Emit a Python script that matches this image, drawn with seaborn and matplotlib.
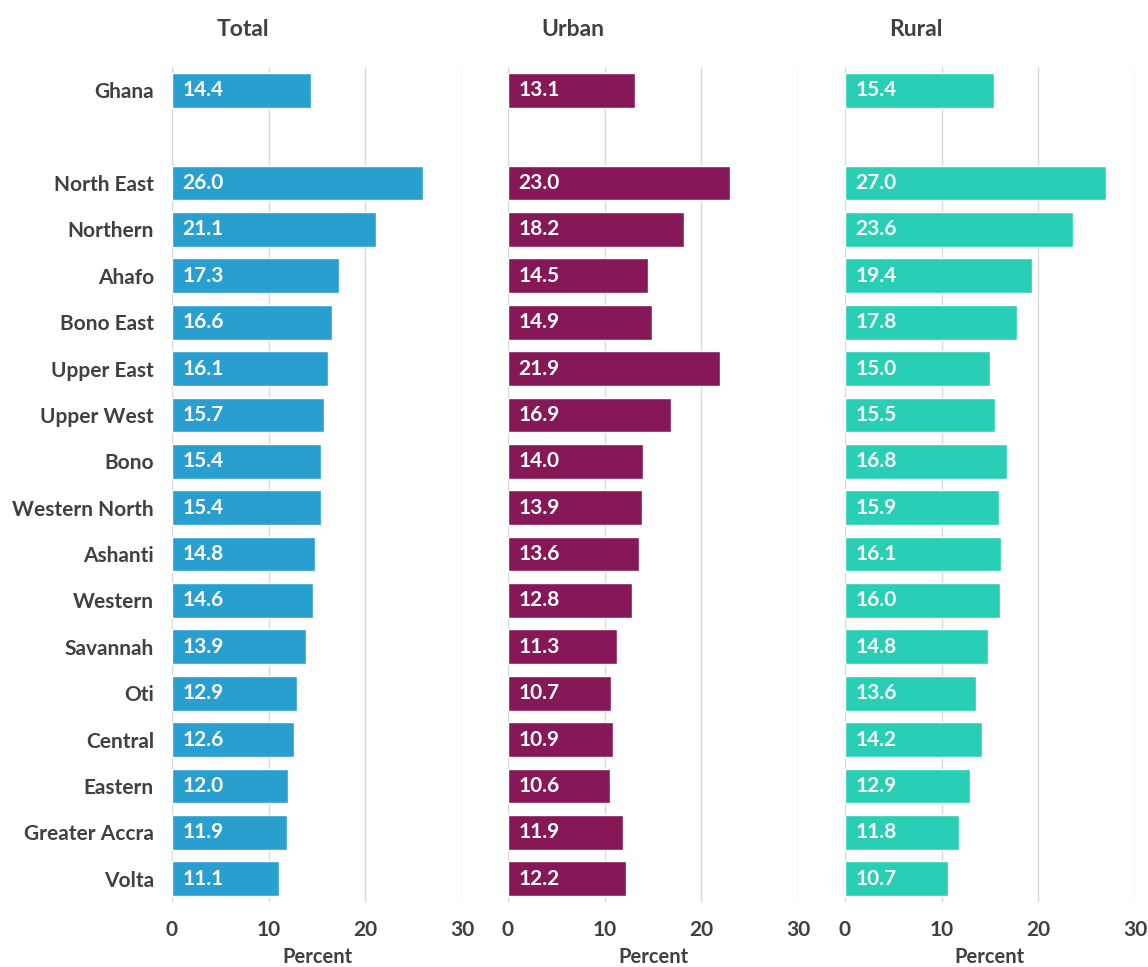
import matplotlib
matplotlib.use("Agg")
import matplotlib.pyplot as plt
import seaborn as sns
import pandas as pd

regions = ["Ghana", "North East", "Northern", "Ahafo", "Bono East", "Upper East",
           "Upper West", "Bono", "Western North", "Ashanti", "Western", "Savannah",
           "Oti", "Central", "Eastern", "Greater Accra", "Volta"]
total = [14.4, 26.0, 21.1, 17.3, 16.6, 16.1, 15.7, 15.4, 15.4, 14.8, 14.6, 13.9,
         12.9, 12.6, 12.0, 11.9, 11.1]
urban = [13.1, 23.0, 18.2, 14.5, 14.9, 21.9, 16.9, 14.0, 13.9, 13.6, 12.8, 11.3,
         10.7, 10.9, 10.6, 11.9, 12.2]
rural = [15.4, 27.0, 23.6, 19.4, 17.8, 15.0, 15.5, 16.8, 15.9, 16.1, 16.0, 14.8,
         13.6, 14.2, 12.9, 11.8, 10.7]
panel_titles = ["Total", "Urban", "Rural"]
xticks = [0, 10, 20, 30]
xlabel = "Percent"

order = [regions[0], " "] + regions[1:]
colors = ["#299FCF", "#861858", "#28CFB4"]
series = [total, urban, rural]

sns.set_theme(style="white")
plt.rcParams["font.family"] = ["Lato", "DejaVu Sans"]
text_color = "#404040"

fig = plt.figure(figsize=(11.48, 9.67), dpi=100)
lefts = [0.1498, 0.4425, 0.7360]
width = 0.2526
bottom, top = 0.0672, 0.9307
title_x = [0.245, 0.225, 0.245]

for k, (vals, col, title) in enumerate(zip(series, colors, panel_titles)):
    ax = fig.add_axes([lefts[k], bottom, width, top - bottom])
    df = pd.DataFrame({"region": regions, "value": vals})
    sns.barplot(data=df, x="value", y="region", order=order, color=col,
                saturation=1, width=0.75, ax=ax, orient="h")
    ax.set_xlim(0, 30)
    ax.set_ylim(len(order) - 0.5, -0.5)
    ax.set_xticks(xticks)
    ax.set_xticklabels([str(t) for t in xticks], fontsize=15, fontweight="bold",
                       color=text_color)
    ax.set_xlabel(xlabel, fontsize=14.5, fontweight="bold", color=text_color, labelpad=5)
    ax.set_ylabel("")
    ax.xaxis.grid(True, color="#D9D9D9", linewidth=1)
    ax.set_axisbelow(True)
    for s in ax.spines.values():
        s.set_visible(False)
    ax.tick_params(axis="x", length=0, pad=13)
    ax.tick_params(axis="y", length=0, pad=13)
    if k == 0:
        ax.set_yticks(range(len(order)))
        ax.set_yticklabels(order, fontsize=15, fontweight="bold", color=text_color)
    else:
        ax.set_yticks([])
    ax.text(title_x[k], 1.045, title, transform=ax.transAxes, fontsize=16.5,
            fontweight="bold", color=text_color, ha="center", va="center")
    for name, v in zip(regions, vals):
        yi = order.index(name)
        ax.text(1.1, yi, f"{v:.1f}", color="white", fontsize=15, fontweight="bold",
                va="center", ha="left")

fig.savefig("out.png", dpi=100)
